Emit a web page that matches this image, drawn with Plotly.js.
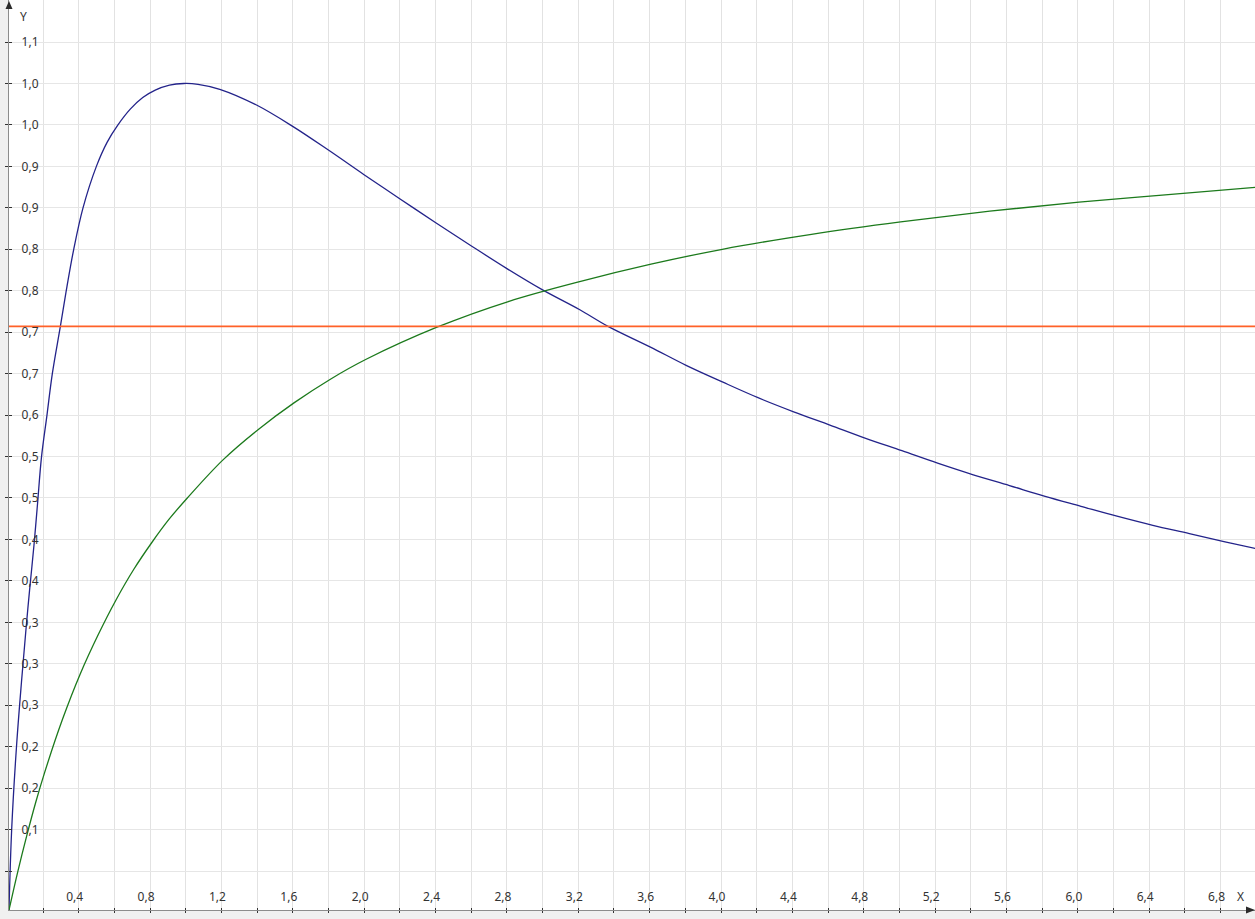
<!DOCTYPE html>
<html>
<head>
<meta charset="utf-8">
<script src="https://cdn.plot.ly/plotly-3.0.1.min.js"></script>
<style>html,body{margin:0;padding:0;background:#f0f0f0;}#chart{width:1255px;height:919px;}</style>
</head>
<body>
<div id="chart"></div>
<script>
// ---- data ----
var blueX = [0, 0.015, 0.042, 0.07, 0.095, 0.115, 0.14, 0.16, 0.182, 0.213, 0.243, 0.288, 0.325, 0.363, 0.415, 0.49, 0.55, 0.611, 0.68, 0.75, 0.82, 0.9, 0.98, 1.06, 1.182, 1.388, 1.593, 1.789, 1.991, 2.191, 2.393, 2.593, 2.79, 2.992, 3.201, 3.359, 3.597, 3.797, 4.0, 4.2, 4.4, 4.603, 4.804, 5.007, 5.207, 5.407, 5.61, 5.81, 6.011, 6.213, 6.414, 6.619, 6.819, 7.015];
var blueY = [0, 0.097, 0.197, 0.275, 0.338, 0.385, 0.44, 0.49, 0.546, 0.597, 0.647, 0.704, 0.752, 0.797, 0.847, 0.897, 0.926, 0.947, 0.966, 0.980, 0.989, 0.995, 0.997, 0.996, 0.990, 0.971, 0.945, 0.917, 0.887, 0.858, 0.829, 0.801, 0.774, 0.748, 0.724, 0.704, 0.679, 0.657, 0.637, 0.618, 0.601, 0.585, 0.569, 0.554, 0.539, 0.525, 0.512, 0.499, 0.487, 0.475, 0.464, 0.454, 0.444, 0.435];

var greenX = [0, 0.05, 0.1, 0.15, 0.2, 0.3, 0.4, 0.5, 0.6, 0.7, 0.8, 0.9, 1.0, 1.2, 1.4, 1.6, 1.8, 2.0, 2.4, 2.8, 3.2, 3.6, 4.0, 4.5, 5.0, 5.5, 6.0, 6.5, 7.0];
var greenY = [0, 0.047, 0.09, 0.13, 0.166, 0.23, 0.285, 0.332, 0.374, 0.411, 0.443, 0.472, 0.497, 0.543, 0.580, 0.612, 0.640, 0.664, 0.703, 0.734, 0.758, 0.779, 0.797, 0.815, 0.830, 0.843, 0.854, 0.863, 0.872];

var orangeX = [0, 7.0];
var orangeY = [0.704, 0.704];

var xTickText = ['', '0,4', '', '0,8', '', '1,2', '', '1,6', '', '2,0', '', '2,4', '', '2,8', '', '3,2', '', '3,6', '', '4,0', '', '4,4', '', '4,8', '', '5,2', '', '5,6', '', '6,0', '', '6,4', '', '6,8'];
var yTickText = ['', '0,1', '0,2', '0,2', '0,3', '0,3', '0,3', '0,4', '0,4', '0,5', '0,5', '0,6', '0,7', '0,7', '0,8', '0,8', '0,9', '0,9', '1,0', '1,0', '1,1'];
var xTickStart = 0.1907, xTickStep = 0.2001;
var yTickStart = 0.047, yTickStep = 0.05;

var xTickVals = xTickText.map(function (_, i) { return xTickStart + i * xTickStep; });
var yTickVals = yTickText.map(function (_, i) { return yTickStart + i * yTickStep; });

var xRange = [0, 6.987];
var yRange = [0, 1.0977];

var traces = [
  {x: blueX, y: blueY, type: 'scatter', mode: 'lines', line: {color: '#23238a', width: 1.3, shape: 'spline', smoothing: 1.0}, hoverinfo: 'skip'},
  {x: greenX, y: greenY, type: 'scatter', mode: 'lines', line: {color: '#1c7a1c', width: 1.3, shape: 'spline', smoothing: 1.0}, hoverinfo: 'skip'},
  {x: orangeX, y: orangeY, type: 'scatter', mode: 'lines', line: {color: '#ff6128', width: 1.8}, hoverinfo: 'skip'},
  {x: [], y: [], xaxis: 'x2', yaxis: 'y2', type: 'scatter', mode: 'lines', hoverinfo: 'skip'}
];

var tickFont = {family: 'Noto Sans, sans-serif', size: 12, color: '#333333'};

var layout = {
  width: 1255, height: 919,
  paper_bgcolor: '#f0f0f0', plot_bgcolor: '#ffffff',
  margin: {l: 9, r: 0, t: 0, b: 9, pad: 0},
  showlegend: false,
  xaxis: {
    range: xRange, tickmode: 'array', tickvals: xTickVals, ticktext: xTickText,
    ticks: 'outside', ticklen: 2, tickcolor: '#333333', tickwidth: 1,
    showline: true, linecolor: '#8c8c8c', linewidth: 1.2,
    showgrid: true, gridcolor: '#e2e2e2', gridwidth: 1, zeroline: false,
    ticklabelposition: 'inside', ticklabelshift: -4, ticklabelstandoff: 6,
    tickfont: tickFont, fixedrange: true
  },
  yaxis: {
    range: yRange, tickmode: 'array', tickvals: yTickVals, ticktext: yTickText,
    ticks: 'outside', ticklen: 3, tickcolor: '#333333', tickwidth: 1,
    showline: true, linecolor: '#8c8c8c', linewidth: 1.2,
    showgrid: true, gridcolor: '#e6e6e6', gridwidth: 1, zeroline: false,
    ticklabelposition: 'inside', ticklabelstandoff: 12,
    tickfont: tickFont, fixedrange: true
  },
  xaxis2: {
    overlaying: 'x', anchor: 'y', side: 'bottom', range: xRange,
    tickmode: 'array', tickvals: xTickVals, ticks: 'inside', ticklen: 2, tickcolor: '#333333',
    showticklabels: false, showgrid: false, showline: false, zeroline: false, fixedrange: true
  },
  yaxis2: {
    overlaying: 'y', anchor: 'x', side: 'left', range: yRange,
    tickmode: 'array', tickvals: yTickVals, ticks: 'inside', ticklen: 3, tickcolor: '#333333',
    showticklabels: false, showgrid: false, showline: false, zeroline: false, fixedrange: true
  },
  shapes: [
    {type: 'path', xref: 'paper', yref: 'paper', xsizemode: 'pixel', ysizemode: 'pixel',
     xanchor: 0, yanchor: 1, path: 'M0,-1 L-3.5,-9 L3.5,-9 Z', fillcolor: '#2b2b2b', line: {width: 0}},
    {type: 'path', xref: 'paper', yref: 'paper', xsizemode: 'pixel', ysizemode: 'pixel',
     xanchor: 1, yanchor: 0, path: 'M0,0 L-9,3.5 L-9,-3.5 Z', fillcolor: '#2b2b2b', line: {width: 0}}
  ],
  annotations: [
    {text: 'Y', xref: 'paper', yref: 'paper', x: 0.012, y: 0.9824, showarrow: false,
     xanchor: 'center', yanchor: 'middle', font: tickFont},
    {text: 'X', xref: 'paper', yref: 'paper', x: 0.9880, y: 0.0143, showarrow: false,
     xanchor: 'center', yanchor: 'middle', font: tickFont}
  ]
};

Plotly.newPlot('chart', traces, layout, {displayModeBar: false, staticPlot: true});
</script>
</body>
</html>
